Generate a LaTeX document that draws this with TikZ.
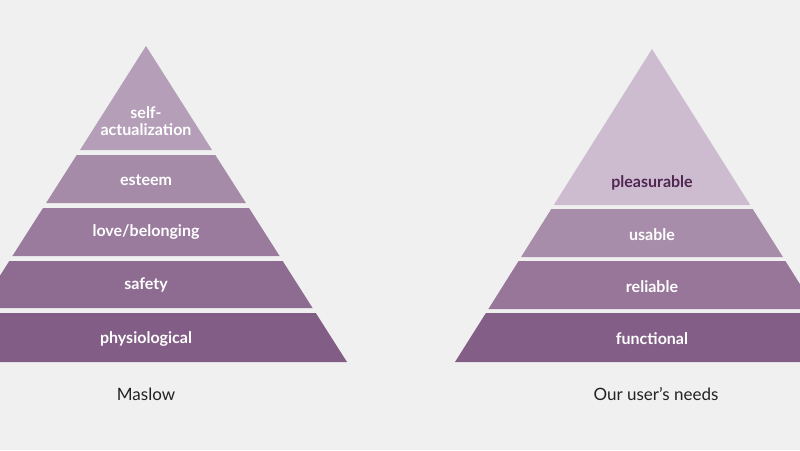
\documentclass[tikz,border=0pt]{standalone}
\usepackage{fontspec}
\setmainfont{Lato}
\usepackage{tikz}
\usetikzlibrary{positioning}
\usepackage{xcolor}
\definecolor{pagebg}{RGB}{240, 240, 240}
\definecolor{levelA}{RGB}{180, 158, 184}
\definecolor{levelB}{RGB}{166, 139, 169}
\definecolor{levelC}{RGB}{154, 122, 157}
\definecolor{levelD}{RGB}{142, 108, 145}
\definecolor{levelE}{RGB}{130, 93, 134}
\definecolor{needA}{RGB}{205, 188, 207}
\definecolor{needB}{RGB}{168, 141, 171}
\definecolor{needC}{RGB}{151, 118, 153}
\definecolor{needD}{RGB}{131, 94, 135}
\definecolor{darkplum}{RGB}{80, 38, 83}
\definecolor{captiongray}{RGB}{34, 34, 34}

\begin{document}
\begin{tikzpicture}[x=1pt, y=-1pt,
    level/.style={font=\bfseries\fontsize{16}{17}\selectfont, text=white, align=center, inner sep=0pt},
    caption/.style={font=\fontsize{17}{20}\selectfont, text=captiongray, inner sep=0pt}]
    % Page
    \fill[pagebg] (0,0) rectangle (800,450);
    \clip (0,0) rectangle (800,450);

    % Maslow pyramid
    \fill[levelA] (146,46) -- (212,150) -- (80,150) -- cycle;
    \fill[levelB] (76.7,155) -- (215.3,155) -- (245.9,203) -- (46.1,203) -- cycle;
    \fill[levelC] (43,208) -- (249,208) -- (279.6,256) -- (12.4,256) -- cycle;
    \fill[levelD] (9.3,261) -- (282.7,261) -- (312.6,308) -- (-20.6,308) -- cycle;
    \fill[levelE] (-23.8,313) -- (315.8,313) -- (347,362) -- (-55,362) -- cycle;

    \node[level] (selfact) at (146,121) {self-\\actualization};
    \node[level] (esteem) at (146,180) {esteem};
    \node[level] (love) at (146,232) {love/belonging};
    \node[level] (safety) at (146,285) {safety};
    \node[level] (physio) at (146,339) {physiological};

    % Our pyramid
    \fill[needA] (652,49) -- (750.2,205) -- (553.8,205) -- cycle;
    \fill[needB] (551.3,209) -- (752.7,209) -- (782.9,257) -- (521.1,257) -- cycle;
    \fill[needC] (518.6,261) -- (785.4,261) -- (815.6,309) -- (488.4,309) -- cycle;
    \fill[needD] (485.9,313) -- (818.1,313) -- (849,362) -- (455,362) -- cycle;

    \node[level, text=darkplum] (pleasure) at (652,183) {pleasurable};
    \node[level] (usable) at (652,235) {usable};
    \node[level] (reliable) at (652,287) {reliable};
    \node[level] (functional) at (652,339) {functional};

    % Captions
    \node[caption] (maslow) at (146,394) {Maslow};
    \node[caption] (ours) at (656,394) {Our user’s needs};
\end{tikzpicture}
\end{document}
